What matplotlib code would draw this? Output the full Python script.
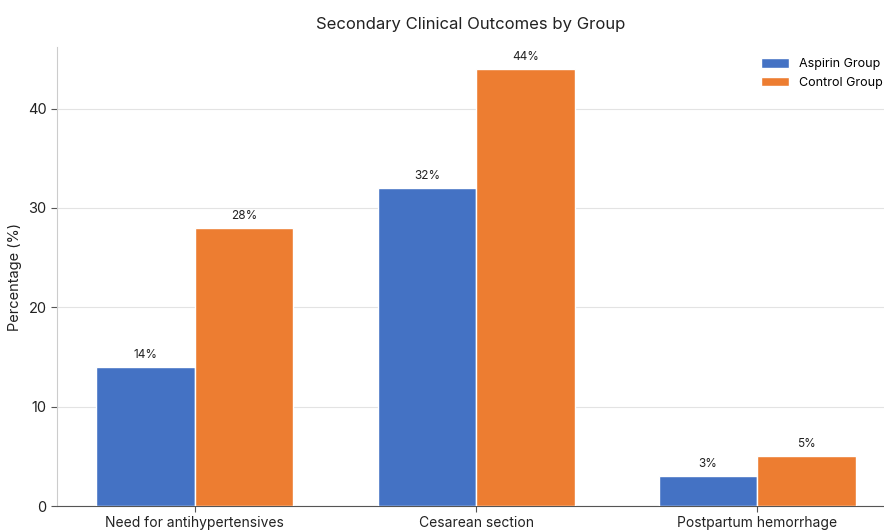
import matplotlib
matplotlib.use("Agg")
import matplotlib.pyplot as plt
import numpy as np

plt.rcParams['font.family'] = ['Inter', 'DejaVu Sans']

categories = ["Need for antihypertensives", "Cesarean section", "Postpartum hemorrhage"]
aspirin = [14, 32, 3]
control = [28, 44, 5]
series_names = ["Aspirin Group", "Control Group"]
colors = ["#4472C4", "#ED7D31"]

fig = plt.figure(figsize=(8.84, 5.31), dpi=100)
ax = fig.add_axes([57 / 884, 25 / 531, 1 - 57 / 884, 459 / 531])

x = np.arange(len(categories))
w = 0.35
b1 = ax.bar(x - w / 2, aspirin, w, color=colors[0], edgecolor="white", linewidth=1, label=series_names[0], zorder=3)
b2 = ax.bar(x + w / 2, control, w, color=colors[1], edgecolor="white", linewidth=1, label=series_names[1], zorder=3)

for bars in (b1, b2):
    for r in bars:
        h = r.get_height()
        ax.text(r.get_x() + r.get_width() / 2, h + 0.6, f"{h:g}%", ha="center", va="bottom",
                fontsize=8.5, color="#222222")

ax.set_xticks(x)
ax.set_xticklabels(categories, fontsize=10, color="#222222")
ax.set_xlim(-0.49, 2.45)
ax.set_ylim(0, 46.2)
ax.set_yticks([0, 10, 20, 30, 40])
ax.tick_params(axis="y", labelsize=10.5, colors="#222222", length=4, color="#555555")
ax.tick_params(axis="x", length=4, color="#555555")
ax.set_ylabel("Percentage (%)", fontsize=10.5, color="#222222")
ax.yaxis.grid(True, color="#e3e3e3", linewidth=0.8, zorder=0)
ax.set_axisbelow(True)

for s in ("top", "right"):
    ax.spines[s].set_visible(False)
ax.spines["left"].set_color("#cccccc")
ax.spines["bottom"].set_color("#555555")

ax.set_title("Secondary Clinical Outcomes by Group", fontsize=12, color="#222222", pad=13)
ax.legend(loc="upper right", frameon=False, fontsize=9, bbox_to_anchor=(1.012, 1.0),
          handlelength=2.2, handleheight=0.8)

fig.savefig("out.png", dpi=100)
